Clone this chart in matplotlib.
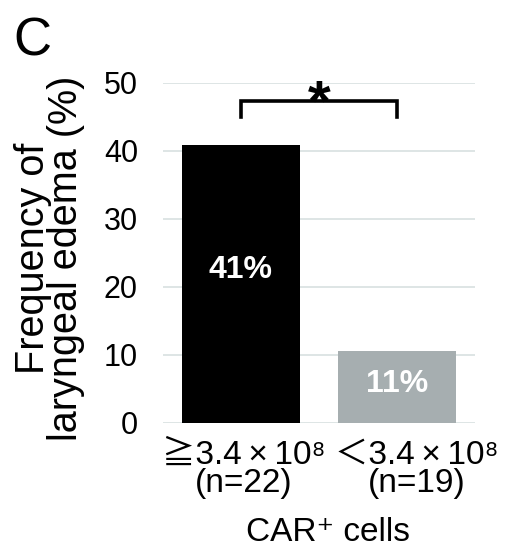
import matplotlib
matplotlib.use('Agg')
import matplotlib.pyplot as plt
from matplotlib.transforms import ScaledTranslation

plt.rcParams['font.family'] = ['Liberation Sans', 'Noto Sans CJK JP', 'DejaVu Sans']

groups = ['≧3.4\u2009×\u200910⁸\n(n=22)', '＜3.4\u2009×\u200910⁸\n(n=19)']
freq = [40.9, 10.5]
bar_labels = ['41%', '11%']
bar_colors = ['#000000', '#a6aeb0']
yticks = [0, 10, 20, 30, 40, 50]

fig = plt.figure(figsize=(5.09, 5.52), dpi=100)
ax = fig.add_axes([0.320, 0.234, 0.613, 0.616])

x = range(len(groups))
ax.bar(x, freq, width=0.76, color=bar_colors, zorder=3)
for i, (v, lab) in enumerate(zip(freq, bar_labels)):
    ax.text(i, v * 0.55, lab, ha='center', va='center', color='white',
            fontsize=23, fontweight='bold', zorder=4)

# significance bracket
ax.plot([0, 0, 1, 1], [45.0, 47.3, 47.3, 45.0], color='black', lw=2.6,
        solid_joinstyle='miter', clip_on=False, zorder=4)
ax.text(0.5, 46.6, '*', ha='center', va='center', fontsize=42,
        fontweight='bold')

ax.set_xlim(-0.5, 1.5)
ax.set_ylim(0, 50)
ax.set_yticks(yticks)
ax.set_xticks(list(x))
ax.set_xticklabels(groups, fontsize=24, linespacing=0.9)
ax.tick_params(axis='y', labelsize=22, length=0, pad=18)
ax.tick_params(axis='x', length=0, pad=12)
ax.grid(axis='y', color='#d8e0e0', lw=1.2, zorder=0)
for s in ax.spines.values():
    s.set_visible(False)

# nudge tick labels sideways like the original layout
for lab, dx in zip(ax.get_xticklabels(), [3, 20]):
    lab.set_transform(lab.get_transform() + ScaledTranslation(dx / 100, 0, fig.dpi_scale_trans))

ax.set_xlabel('CAR⁺ cells', fontsize=24)
ax.xaxis.set_label_coords(0.53, -0.276)
ax.xaxis.label.set_va('top')
ax.set_ylabel('Frequency of\nlaryngeal edema (%)', fontsize=28.5,
              linespacing=0.85)
ax.yaxis.set_label_coords(-0.364, 0.484)
ax.yaxis.label.set_va('center')

fig.text(0.026, 0.97, 'C', fontsize=38, va='top', ha='left')

fig.savefig('out.png', dpi=100)
